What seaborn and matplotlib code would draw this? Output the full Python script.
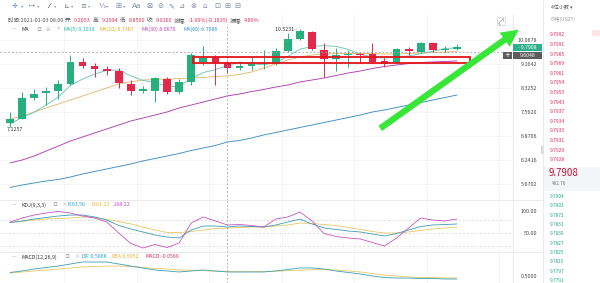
import numpy as np
import pandas as pd
import matplotlib
matplotlib.use("Agg")
import matplotlib.pyplot as plt
import seaborn as sns
from matplotlib.patches import Rectangle, FancyArrowPatch
from matplotlib.lines import Line2D
from matplotlib.ticker import NullLocator

# ---------------- data ----------------
opens = [7.239, 7.355, 7.999, 8.161, 8.226, 8.459, 9.238, 9.091, 8.983, 8.912,
         8.459, 8.226, 8.226, 8.631, 8.193, 8.528, 9.238, 9.425, 9.2053, 9.019,
         9.091, 9.165, 9.165, 9.654, 10.128, 10.416, 9.692, 9.350, 9.500, 9.520,
         9.538, 9.275, 9.201, 9.731, 9.615, 9.967, 9.692, 9.731]
highs = [7.564, 8.193, 8.292, 8.359, 8.596, 9.500, 9.387, 9.201, 9.091, 9.019,
         8.596, 8.392, 8.700, 8.700, 8.631, 9.577, 9.849, 9.500, 9.2994, 9.201,
         9.425, 9.692, 9.770, 10.374, 10.5231, 10.458, 9.967, 9.770, 9.692, 9.577,
         9.967, 9.387, 9.770, 9.809, 10.008, 10.008, 9.849, 9.928]
lows = [7.1257, 7.340, 7.935, 7.778, 7.966, 8.420, 9.019, 8.700, 8.770, 8.326,
        8.096, 8.161, 7.872, 8.128, 8.128, 8.426, 9.128, 8.426, 8.8500, 8.947,
        8.947, 8.983, 9.128, 9.615, 10.088, 9.692, 8.700, 8.912, 9.055, 9.201,
        9.201, 9.055, 9.165, 9.500, 9.577, 9.615, 9.615, 9.692]
closes = [7.355, 7.999, 8.128, 8.226, 8.459, 9.238, 9.091, 8.983, 8.912, 8.494,
          8.226, 8.292, 8.665, 8.193, 8.528, 9.500, 9.387, 9.201, 9.0160, 9.091,
          9.165, 9.200, 9.654, 10.128, 10.458, 9.731, 9.350, 9.500, 9.538, 9.500,
          9.238, 9.165, 9.731, 9.654, 9.967, 9.692, 9.731, 9.7908]
ma5 = [7.21, 7.40, 7.56, 7.78, 8.033, 8.410, 8.628, 8.799, 8.937, 8.944,
       8.741, 8.581, 8.518, 8.374, 8.381, 8.636, 8.855, 8.962, 9.1019, 9.239,
       9.172, 9.135, 9.225, 9.448, 9.721, 9.834, 9.864, 9.833, 9.715, 9.524,
       9.425, 9.388, 9.434, 9.458, 9.551, 9.642, 9.755, 9.767]
ma10 = [7.354, 7.444, 7.564, 7.686, 7.809, 7.935, 8.063, 8.193, 8.326, 8.459,
        8.528, 8.596, 8.614, 8.631, 8.648, 8.665, 8.683, 8.718, 8.7387, 8.788,
        8.876, 9.019, 9.165, 9.312, 9.425, 9.500, 9.538, 9.557, 9.557, 9.557,
        9.557, 9.538, 9.538, 9.557, 9.577, 9.596, 9.615, 9.634]
ma30 = [6.168, 6.242, 6.343, 6.471, 6.601, 6.735, 6.843, 6.954, 7.066, 7.180,
        7.296, 7.384, 7.473, 7.564, 7.686, 7.779, 7.872, 7.967, 8.0670, 8.128,
        8.209, 8.276, 8.359, 8.426, 8.528, 8.596, 8.665, 8.752, 8.840, 8.912,
        9.001, 9.073, 9.128, 9.183, 9.219, 9.238, 9.256, 9.275]
ma60 = [5.592, 5.648, 5.694, 5.739, 5.774, 5.832, 5.902, 5.962, 6.022, 6.082,
        6.143, 6.218, 6.280, 6.343, 6.407, 6.485, 6.549, 6.615, 6.7086, 6.749,
        6.816, 6.899, 6.968, 7.038, 7.109, 7.180, 7.252, 7.325, 7.398, 7.473,
        7.564, 7.624, 7.701, 7.779, 7.856, 7.935, 8.015, 8.095]
kdj_k = [73.9, 77.3, 81.8, 85.2, 88.6, 90.9, 90.9, 86.4, 79.5, 67.0,
         59.1, 52.3, 45.5, 40.9, 38.6, 56.8, 65.9, 65.9, 63.56, 65.9,
         64.8, 63.6, 68.2, 75.0, 81.8, 70.5, 61.4, 58.0, 54.5, 52.3,
         47.7, 43.2, 48.9, 56.8, 64.8, 68.2, 69.3, 70.5]
kdj_d = [73.9, 76.1, 79.5, 81.8, 83.0, 84.1, 86.4, 85.2, 80.7, 76.1,
         70.5, 63.6, 56.8, 51.1, 51.1, 53.4, 56.8, 60.2, 61.23, 62.5,
         63.6, 63.6, 65.9, 68.2, 72.7, 71.6, 69.3, 67.0, 62.5, 58.0,
         53.4, 50.0, 50.0, 52.3, 55.7, 59.1, 61.4, 63.6]
kdj_j = [75.0, 84.1, 90.9, 95.5, 98.9, 95.5, 88.6, 84.1, 75.0, 50.0,
         26.1, 15.9, 23.9, 17.0, 27.3, 72.7, 86.4, 77.3, 68.22, 69.3,
         67.0, 63.6, 81.8, 86.4, 97.7, 77.3, 48.9, 42.0, 38.6, 36.4,
         28.4, 20.5, 38.6, 61.4, 84.1, 79.5, 77.3, 81.8]
macd_dif = [0.576, 0.609, 0.652, 0.685, 0.717, 0.761, 0.804, 0.804, 0.804, 0.761,
            0.717, 0.674, 0.630, 0.609, 0.587, 0.609, 0.630, 0.609, 0.5868, 0.587,
            0.587, 0.587, 0.609, 0.641, 0.674, 0.674, 0.652, 0.609, 0.576, 0.543,
            0.500, 0.467, 0.456, 0.456, 0.445, 0.445, 0.435, 0.435]
macd_dea = [0.565, 0.587, 0.609, 0.630, 0.652, 0.674, 0.696, 0.706, 0.717, 0.717,
            0.706, 0.685, 0.663, 0.652, 0.630, 0.625, 0.615, 0.605, 0.5952, 0.595,
            0.595, 0.597, 0.605, 0.615, 0.625, 0.635, 0.640, 0.630, 0.610, 0.587,
            0.554, 0.520, 0.500, 0.478, 0.467, 0.467, 0.456, 0.456]

price_ticks = [10.0878, 9.1642, 8.3252, 7.5620, 6.8706, 6.2416, 5.6702]
price_tick_labels = ["10.0878", "9.1642", "8.3252", "7.5620", "6.8706", "6.2416", "5.6702"]
kdj_ticks = [100, 50]
kdj_tick_labels = ["100.00", "50.00"]
kdj_levels = [80, 50, 20]
macd_ticks = [0.5]
macd_tick_labels = ["0.5000"]
cross_index = 18
cross_price = 9.6048
last_price = 9.7908
high_mark = (24, 10.5231)
low_mark = (0, 7.1257)
asks = [9.7992, 9.7991, 9.7985, 9.7969, 9.7961, 9.7954, 9.7953, 9.7943, 9.7937,
        9.7934, 9.7933, 9.7931, 9.7929, 9.7928]
bids = [9.7904, 9.7903, 9.7873, 9.7831, 9.7830, 9.7827, 9.7825, 9.7815, 9.7797, 9.7791]

header = [("时间:2021-01-03 08:00", "#555555"), ("开:", "#555555"), ("9.2053", "#e0335a"),
          ("高:", "#555555"), ("9.2994", "#e0335a"), ("低:", "#555555"), ("8.8500", "#e0335a"),
          ("收:", "#555555"), ("9.0160", "#e0335a"), ("涨幅:", "#555555"),
          ("-1.99%(-0.1835)", "#e0335a"), ("振幅:", "#555555"), ("4.89%", "#e0335a")]

# ---------------- style ----------------
W, H = 600, 283
GREEN = "#25b07e"
RED = "#e2294b"
C_MA5, C_MA10, C_MA30, C_MA60 = "#6cc7b4", "#e7b873", "#b03db5", "#3b8fc4"
L_MA5, L_MA10, L_MA30, L_MA60 = "#22b5aa", "#e6a823", "#c23fc2", "#2d8fd5"
C_K, C_D, C_J = "#3d9fb0", "#e8c766", "#c455c4"
GRID = "#f2f2f2"

sns.set_theme(style="white")
plt.rcParams["font.family"] = ["Noto Sans CJK SC", "DejaVu Sans"]
plt.rcParams["axes.unicode_minus"] = False

fig = plt.figure(figsize=(W / 100, H / 100), dpi=100)
fig.patch.set_facecolor("white")
renderer = fig.canvas.get_renderer()


def px_rect(x0, y0, x1, y1):
    return [x0 / W, 1 - y1 / H, (x1 - x0) / W, (y1 - y0) / H]


def T(x, y, s, size=3.8, color="#333333", ha="left", va="center", **kw):
    return fig.text(x / W, 1 - y / H, s, fontsize=size, color=color, ha=ha, va=va, **kw)


def seg(x0, y0, x1, y1, color, lw):
    fig.add_artist(Line2D([x0 / W, x1 / W], [1 - y0 / H, 1 - y1 / H], color=color, lw=lw))


ax = fig.add_axes(px_rect(0, 14, 513, 200))
ax_k = fig.add_axes(px_rect(0, 200, 513, 252), sharex=ax)
ax_m = fig.add_axes(px_rect(0, 252, 513, 283), sharex=ax)

n = len(closes)
df = pd.DataFrame(dict(i=np.arange(n), open=opens, high=highs, low=lows, close=closes,
                       ma5=ma5, ma10=ma10, ma30=ma30, ma60=ma60,
                       K=kdj_k, D=kdj_d, J=kdj_j, DIF=macd_dif, DEA=macd_dea))

# ---- main panel ----
ax.set_yscale("log")
up = df["close"] >= df["open"]
cols = np.where(up, GREEN, RED)
ax.vlines(df["i"], df["low"], df["high"], colors=cols, lw=0.7, zorder=4)
body_bottom = np.minimum(df["open"], df["close"])
body_h = np.maximum(np.abs(df["close"] - df["open"]), 0.025)
ax.bar(df["i"], body_h, bottom=body_bottom, width=0.64, color=cols, lw=0, zorder=5)
for col, c in [("ma60", C_MA60), ("ma30", C_MA30), ("ma10", C_MA10), ("ma5", C_MA5)]:
    sns.lineplot(data=df, x="i", y=col, ax=ax, color=c, lw=0.65, zorder=3)

ax.set_xlim(-0.83, 41.64)
ax.set_ylim(5.319, 11.194)
ax.yaxis.tick_right()
ax.set_yticks(price_ticks)
ax.set_yticklabels(price_tick_labels)
ax.yaxis.set_minor_locator(NullLocator())

# ---- KDJ panel ----
for col, c in [("D", C_D), ("K", C_K), ("J", C_J)]:
    sns.lineplot(data=df, x="i", y=col, ax=ax_k, color=c, lw=0.6, zorder=3)
for lv in kdj_levels:
    ax_k.axhline(lv, color="#d0d0d0", lw=0.5, ls=(0, (3, 3)), zorder=1)
ax_k.set_ylim(6.82, 125)
ax_k.yaxis.tick_right()
ax_k.set_yticks(kdj_ticks)
ax_k.set_yticklabels(kdj_tick_labels)

# ---- MACD panel ----
for col, c in [("DEA", C_D), ("DIF", C_K)]:
    sns.lineplot(data=df, x="i", y=col, ax=ax_m, color=c, lw=0.6, zorder=3)
ax_m.set_ylim(0.3477, 1.0216)
ax_m.yaxis.tick_right()
ax_m.set_yticks(macd_ticks)
ax_m.set_yticklabels(macd_tick_labels)

grid_x = [4.5, 10.5, 16.5, 22.5, 28.5, 34.5, 40.5]
for a in (ax, ax_k, ax_m):
    a.set_facecolor("white")
    a.set_xlabel("")
    a.set_ylabel("")
    for s in a.spines.values():
        s.set_visible(False)
    a.set_xticks(grid_x)
    a.tick_params(axis="x", length=0, labelbottom=False)
    a.tick_params(axis="y", length=0, pad=17.3, labelsize=3.9, labelcolor="#444444")
    for lbl in a.get_yticklabels():
        lbl.set_horizontalalignment("right")
    a.grid(True, axis="x", color=GRID, lw=0.5)
ax.grid(True, axis="y", color=GRID, lw=0.5)
ax_k.grid(False, axis="y")
ax_m.grid(False, axis="y")

# ---- crosshair ----
cross_kw = dict(color="#a0a0a0", lw=0.55, ls=(0, (2.5, 2.5)), zorder=6)
ax.axvline(cross_index, ymin=0, ymax=(200 - 24) / 186, **cross_kw)
ax_k.axvline(cross_index, **cross_kw)
ax_m.axvline(cross_index, **cross_kw)
ax.axhline(cross_price, xmin=0, xmax=503 / 513, **cross_kw)

# ---- red box annotation ----
box_x0, box_x1 = 15.15, 38.08
box_lo, box_hi = 9.201, 9.425
ax.add_patch(Rectangle((box_x0, box_lo), box_x1 - box_x0, box_hi - box_lo, fill=False,
                       ec="#e3121b", lw=1.3, zorder=7))

# ---- extreme labels ----
ax.annotate(f"{high_mark[1]:.4f} -", xy=high_mark, xytext=(-2.2, 0.3), textcoords="offset points",
            ha="right", va="center", fontsize=3.8, color="#333333")
ax.annotate(f"{low_mark[1]:.4f}", xy=low_mark, xytext=(-2.5, -1.8), textcoords="offset points",
            ha="left", va="center", fontsize=3.8, color="#333333")

fig.canvas.draw()


def to_px(a, x, y):
    dx, dy = a.transData.transform((x, y))
    return dx, H - dy


# ---- price tags on the axis ----
_, y_last = to_px(ax, 0, last_price)
fig.add_artist(Rectangle((513 / W, 1 - (y_last + 3.6) / H), 29 / W, 7.2 / H,
                         transform=fig.transFigure, fc="#2fb08a", ec="none", zorder=8))
T(527.5, y_last, f"- {last_price:.4f}", size=3.7, color="white", ha="center", zorder=9)
_, y_cross = to_px(ax, 0, cross_price)
y_cross = max(y_cross, y_last + 8)
fig.add_artist(Rectangle((513 / W, 1 - (y_cross + 3.6) / H), 29 / W, 7.2 / H,
                         transform=fig.transFigure, fc="#5c5c5c", ec="none", zorder=8))
fig.add_artist(Rectangle((503 / W, 1 - (y_cross + 3.6) / H), 9.3 / W, 7.2 / H,
                         transform=fig.transFigure, fc="#5c5c5c", ec="none", zorder=8))
T(527.5, y_cross, f"{cross_price:.4f}", size=3.7, color="white", ha="center", zorder=9)
T(507.6, y_cross, "+", size=5, color="white", ha="center", zorder=9, family=["DejaVu Sans"])

# ---- separators ----
for (x0, y0, x1, y1) in [(513, 14, 513, 283), (543, 0, 543, 283), (0, 200, 543, 200),
                         (0, 252, 543, 252)]:
    seg(x0, y0, x1, y1, "#e8e8e8", 0.6)
fig.add_artist(Rectangle((541 / W, 1 - 154 / H), 2.5 / W, 8 / H, transform=fig.transFigure,
                         fc="#d8d8d8", ec="none"))

# ---- toolbar ----
tool_icons = [(15, "✛", "#4a7fd8"), (22, "▾", "#8a93a8"), (32, "↦", "#7d88a0"), (38, "▾", "#8a93a8"),
              (50, "⁄⁄", "#7d88a0"), (55, "▾", "#8a93a8"), (67, "⊾", "#7d88a0"), (72, "▾", "#8a93a8"),
              (83, "≡", "#7d88a0"), (89, "▾", "#8a93a8"), (102, "⅓", "#7d88a0"), (107, "▾", "#8a93a8"),
              (118, "⊞", "#7d88a0"), (124, "▾", "#8a93a8"), (137, "Aa", "#7d88a0"), (149, "⊠", "#7d88a0"),
              (160, "⊘", "#7d88a0"), (171, "✎", "#7d88a0"), (182, "⊿", "#7d88a0"), (193, "⊗", "#7d88a0"),
              (205, "⌂", "#7d88a0"), (217, "⊡", "#7d88a0"), (227, "⊞", "#7d88a0"), (237, "⊟", "#7d88a0")]
for x, g, c in tool_icons:
    T(x, 6, g, size=5.2 if g != "▾" else 3.2, color=c, ha="center", family=["DejaVu Sans"])

# ---- header line ----
x = 8
for s, c in header:
    t = T(x, 20, s, size=3.95, color=c)
    x += t.get_window_extent(renderer=renderer).width + 1.8

# ---- legend rows ----
T(12, 29, "—", size=3.6, color="#999999")
T(21, 29, "MA", size=3.8, color="#333333")
T(37, 29, "◎", size=3.6, color="#aaaaaa")
T(46, 29, "⊖", size=3.8, color="#aaaaaa", family=["DejaVu Sans"])
T(55, 29, "×", size=3.8, color="#aaaaaa")
T(63, 29, f"MA(5):{ma5[cross_index]:.4f}", size=3.8, color=L_MA5)
T(100, 29, f"MA(10):{ma10[cross_index]:.4f}", size=3.8, color=L_MA10)
T(142, 29, f"MA(30):{ma30[cross_index]:.4f}", size=3.8, color=L_MA30)
T(183, 29, f"MA(60):{ma60[cross_index]:.4f}", size=3.8, color=L_MA60)

T(12, 205, "—", size=3.6, color="#999999")
T(21, 205, "KDJ(9,3,3)", size=3.8, color="#333333")
T(53, 205, "◎", size=3.6, color="#aaaaaa")
T(61, 205, "×", size=3.8, color="#aaaaaa")
T(68, 205, f"K:{kdj_k[cross_index]:.2f}", size=3.8, color="#27a3c4")
T(92, 205, f"D:{kdj_d[cross_index]:.2f}", size=3.8, color="#e6b22a")
T(113, 205, f"J:{kdj_j[cross_index]:.2f}", size=3.8, color="#c83fc8")

T(12, 257, "—", size=3.6, color="#999999")
T(21, 257, "MACD(12,26,9)", size=3.8, color="#333333")
T(65, 257, "◎", size=3.6, color="#aaaaaa")
T(74, 257, "×", size=3.8, color="#aaaaaa")
T(82, 257, f"DIF:{macd_dif[cross_index]:.4f}", size=3.8, color="#27a3c4")
T(112, 257, f"DEA:{macd_dea[cross_index]:.4f}", size=3.8, color="#e6b22a")
T(145, 257, "MACD:-0.0569", size=3.8, color="#d8345f")

# ---- expand icon (drawn as a small shape) ----
fig.add_artist(Rectangle((497 / W, 1 - 25 / H), 8 / W, 8 / H, transform=fig.transFigure,
                         fill=False, ec="#cfcfcf", lw=0.5))
seg(498.5, 23.5, 503.5, 18.5, "#aaaaaa", 0.5)
seg(498.5, 23.5, 498.5, 21.5, "#aaaaaa", 0.5)
seg(498.5, 23.5, 500.5, 23.5, "#aaaaaa", 0.5)
seg(503.5, 18.5, 503.5, 20.5, "#aaaaaa", 0.5)
seg(503.5, 18.5, 501.5, 18.5, "#aaaaaa", 0.5)

# ---- green arrow ----
fig.add_artist(FancyArrowPatch((378 / W, 1 - 130 / H), (521 / W, 1 - 28 / H),
                               transform=fig.transFigure,
                               arrowstyle="simple,head_length=1.25,head_width=1.25,tail_width=0.45",
                               mutation_scale=10, color="#37e637", lw=0, zorder=20))

# ---- order book ----
fig.add_artist(Rectangle((543.5 / W, 1 - 191 / H), 57 / W, 24 / H, transform=fig.transFigure,
                         fc="#f4f5f7", ec="none"))
fig.add_artist(Rectangle((592 / W, 1 - 36 / H), 8 / W, 6 / H, transform=fig.transFigure,
                         fc="#fde5ea", ec="none"))
T(551, 8, "4位小数 ▾", size=3.6, color="#555555")
T(551, 19, "价格(USDT)", size=3.4, color="#9a9a9a")
for k, a in enumerate(asks):
    T(550, 35 + 9.6 * k, f"{a:.4f}", size=3.6, color="#d4335a")
for k, b in enumerate(bids):
    T(550, 196.5 + 9.35 * k, f"{b:.4f}", size=3.4, color="#1fa886")
T(549, 173.5, f"{last_price:.4f}", size=7, color="#c8173f")
T(552, 183.5, "¥62.76", size=3.4, color="#777777")

fig.savefig("out.png", dpi=100, facecolor="white")
